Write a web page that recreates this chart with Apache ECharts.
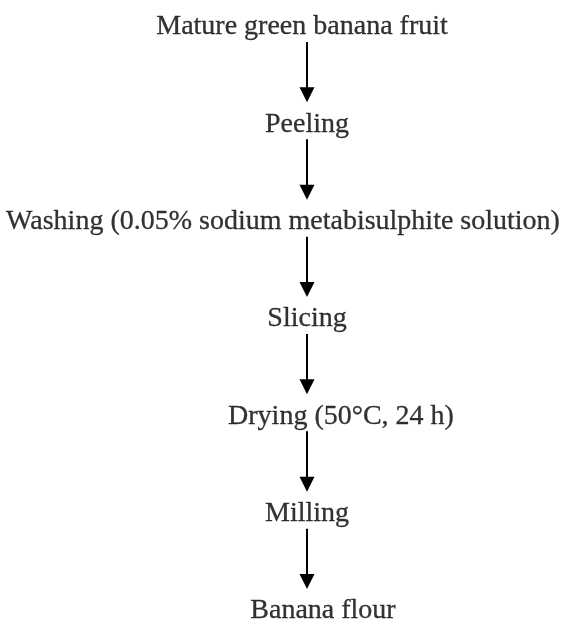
<!DOCTYPE html>
<html lang="en">
<head>
  <meta charset="UTF-8">
  <title>Banana flour process</title>
  <script src="https://cdn.jsdelivr.net/npm/echarts@6.0.0/dist/echarts.min.js"></script>
  <style>
    html, body { margin: 0; padding: 0; background: #fff; }
    #chart { width: 567px; height: 619px; }
  </style>
</head>
<body>
  <div id="chart"></div>
  <script>
    // process steps, top to bottom
    var steps = [
      'Mature green banana fruit',
      'Peeling',
      'Washing (0.05% sodium metabisulphite solution)',
      'Slicing',
      'Drying (50°C, 24 h)',
      'Milling',
      'Banana flour'
    ];
    // each arrow joins one step to the next
    var arrows = steps.slice(0, -1).map(function (s, i) { return [i, i + 1]; });

    var chart = echarts.init(document.getElementById('chart'));
    var centerX = 307;
    // some lines are not centred on the arrow axis
    var labelShift = { 0: -5, 2: -24, 4: 34, 6: 16 };

    var option = {
      animation: false,
      grid: { left: 0, right: 0, top: 27, bottom: 8 },
      xAxis: { type: 'value', min: 0, max: 567, show: false },
      yAxis: { type: 'category', data: steps, inverse: true, boundaryGap: false, show: false },
      series: [
        {
          type: 'scatter',
          symbolSize: 1,
          itemStyle: { color: 'transparent' },
          data: steps.map(function (s, i) {
            return { value: [centerX, i], label: { offset: [labelShift[i] || 0, 0] } };
          }),
          label: {
            show: true,
            position: 'inside',
            formatter: function (p) { return steps[p.value[1]]; },
            fontFamily: 'Liberation Serif',
            fontSize: 28,
            color: '#000',
            textBorderColor: '#000',
            textBorderWidth: 0.3
          }
        },
        {
          type: 'custom',
          data: arrows,
          renderItem: function (params, api) {
            var a = api.coord([centerX, api.value(0)]);
            var b = api.coord([centerX, api.value(1)]);
            var x = Math.round(a[0]);
            var y0 = a[1] + 15;
            var tip = b[1] - 22;
            var headH = 15, headW = 7.5;
            return {
              type: 'group',
              children: [
                {
                  type: 'line',
                  shape: { x1: x, y1: y0, x2: x, y2: tip - headH + 1 },
                  style: { stroke: '#000', lineWidth: 2 }
                },
                {
                  type: 'polygon',
                  shape: { points: [[x - headW, tip - headH], [x + headW, tip - headH], [x, tip]] },
                  style: { fill: '#000' }
                }
              ]
            };
          }
        }
      ]
    };
    chart.setOption(option);
  </script>
</body>
</html>
